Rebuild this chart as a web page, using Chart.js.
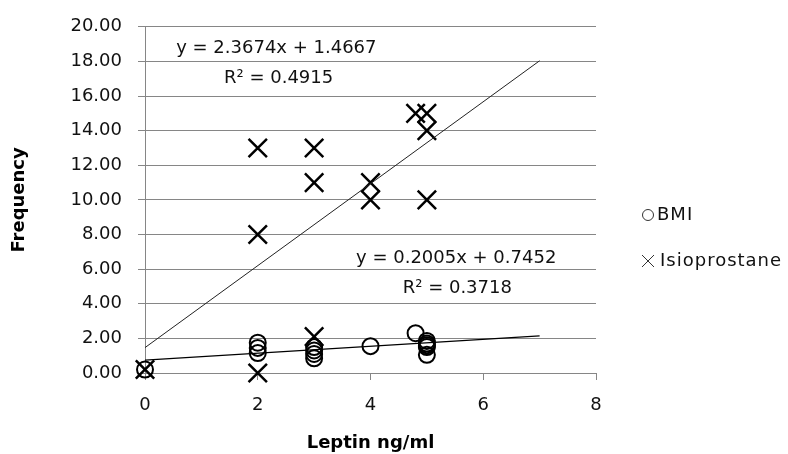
<!DOCTYPE html>
<html><head><meta charset="utf-8">
<script src="https://cdn.jsdelivr.net/npm/chart.js@4.4.1/dist/chart.umd.min.js"></script>
<style>html,body{margin:0;padding:0;background:#fff}</style>
</head><body>
<canvas id="c" width="788" height="454"></canvas>
<script>
// ---- data ----
const seriesNames = ['BMI', 'Isioprostane'];
const bmiX = [0, 2, 2, 2, 3, 3, 3, 3, 4, 4.8, 5, 5, 5, 5, 5];
const bmiY = [0.2, 1.75, 1.45, 1.15, 1.5, 1.3, 1.1, 0.85, 1.55, 2.3, 1.85, 1.7, 1.6, 1.5, 1.05];
const isoX = [0, 2, 2, 2, 3, 3, 3, 4, 4, 5, 4.8, 5, 5];
const isoY = [0.2, 13, 8, 0, 13, 11, 2.1, 11, 10, 10, 15, 15, 14];
const trendX = [0, 7];
const isoTrendY = [1.4667, 18.0385];
const bmiTrendY = [0.7452, 2.1487];
const eqLabels = ['y = 2.3674x + 1.4667', 'R\u00b2 = 0.4915', 'y = 0.2005x + 0.7452', 'R\u00b2 = 0.3718'];
const eqAtX = [2.33, 2.37, 5.52, 5.54];
const eqAtY = [18.75, 17.0, 6.6, 4.9];
const yTicks = [0, 2, 4, 6, 8, 10, 12, 14, 16, 18, 20];
const xTicks = [0, 2, 4, 6, 8];
const xTitle = 'Leptin ng/ml';
const yTitle = 'Frequency';

const pts = (xs, ys) => xs.map((v, i) => ({x: v, y: ys[i]}));

const GRID = '#868686';
const TXT = '#111';

const extras = {
  id: 'extras',
  afterDatasetsDraw(chart) {
    const {ctx, scales: {x, y}, chartArea} = chart;
    ctx.save();
    ctx.font = '18px "DejaVu Sans"';
    ctx.fillStyle = TXT;
    ctx.textAlign = 'center';
    ctx.textBaseline = 'middle';
    eqLabels.forEach((t, i) => ctx.fillText(t, x.getPixelForValue(eqAtX[i]), y.getPixelForValue(eqAtY[i])));
    // legend
    const mx = chartArea.right + 52;
    const rows = [215, 261];
    ctx.strokeStyle = '#333';
    ctx.lineWidth = 1;
    ctx.beginPath(); ctx.arc(mx, rows[0], 5.5, 0, Math.PI * 2); ctx.stroke();
    ctx.beginPath();
    ctx.moveTo(mx - 6, rows[1] - 6); ctx.lineTo(mx + 6, rows[1] + 6);
    ctx.moveTo(mx + 6, rows[1] - 6); ctx.lineTo(mx - 6, rows[1] + 6);
    ctx.stroke();
    ctx.textAlign = 'left';
    ctx.font = '18px "DejaVu Sans"';
    try { ctx.letterSpacing = '1px'; } catch (e) {}
    ctx.fillText(seriesNames[0], mx + 9, rows[0]);
    ctx.fillText(seriesNames[1], mx + 12, rows[1]);
    ctx.restore();
  }
};

new Chart(document.getElementById('c'), {
  type: 'scatter',
  data: {
    datasets: [
      {label: 'BMI trend', type: 'line', data: pts(trendX, bmiTrendY), borderColor: '#000', borderWidth: 1.3, pointRadius: 0, fill: false, order: 0},
      {label: 'Iso trend', type: 'line', data: pts(trendX, isoTrendY), borderColor: '#222', borderWidth: 1, pointRadius: 0, fill: false, order: 0},
      {label: seriesNames[0], data: pts(bmiX, bmiY), pointStyle: 'circle', pointRadius: 8, pointBorderWidth: 2,
       pointBorderColor: '#000', pointBackgroundColor: 'rgba(0,0,0,0)', clip: false, order: 2},
      {label: seriesNames[1], data: pts(isoX, isoY), pointStyle: 'crossRot', pointRadius: 13, pointBorderWidth: 2.5,
       pointBorderColor: '#000', pointBackgroundColor: '#000', clip: false, order: 1}
    ]
  },
  options: {
    responsive: false,
    animation: false,
    devicePixelRatio: 1,
    layout: {padding: {left: 9, top: 19, right: 192, bottom: 0}},
    plugins: {legend: {display: false}, tooltip: {enabled: false}},
    scales: {
      x: {
        type: 'linear', min: 0, max: 8,
        afterBuildTicks: s => { s.ticks = xTicks.map(v => ({value: v})); },
        afterFit: s => { s.height = 81; },
        grid: {drawOnChartArea: false, drawTicks: true, tickLength: 7, color: GRID},
        border: {display: true, color: GRID, width: 1},
        ticks: {color: TXT, padding: 15, font: {family: 'DejaVu Sans', size: 18}, callback: v => String(v)},
        title: {display: true, text: xTitle, color: '#000', padding: 0, font: {family: 'DejaVu Sans', size: 18, weight: 'bold'}}
      },
      y: {
        type: 'linear', min: 0, max: 20,
        afterBuildTicks: s => { s.ticks = yTicks.map(v => ({value: v})); },
        afterFit: s => { s.width = 136; },
        grid: {drawOnChartArea: true, drawTicks: true, tickLength: 7, color: GRID, lineWidth: 1},
        border: {display: true, color: GRID, width: 1},
        ticks: {color: TXT, padding: 16, font: {family: 'DejaVu Sans', size: 18}, callback: v => Number(v).toFixed(2)},
        title: {display: true, text: yTitle, color: '#000', padding: 0, font: {family: 'DejaVu Sans', size: 18, weight: 'bold'}}
      }
    }
  },
  plugins: [extras]
});
</script>
</body></html>
